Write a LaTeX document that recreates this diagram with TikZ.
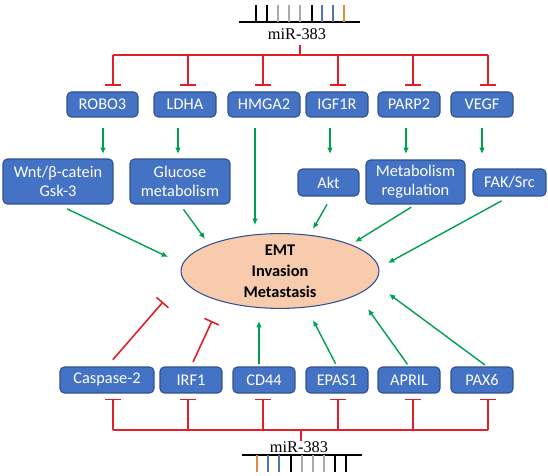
\documentclass[tikz,border=0pt]{standalone}
\usepackage{fontspec}
\setmainfont{Liberation Serif}
\setsansfont{Carlito}
\usetikzlibrary{shapes.geometric,arrows.meta}
\definecolor{boxblue}{RGB}{68,114,196}
\definecolor{boxedge}{RGB}{47,82,143}
\definecolor{emtfill}{RGB}{248,203,173}
\definecolor{inhred}{RGB}{226,30,38}
\definecolor{actgreen}{RGB}{0,160,80}
\definecolor{tickgray}{RGB}{170,170,170}
\definecolor{tickblue}{RGB}{80,115,185}
\definecolor{tickorange}{RGB}{225,140,60}
\tikzstyle{node_box} = [rectangle, rounded corners=2.5pt, draw=boxedge, line width=0.6pt, fill=boxblue, text=white, font=\sffamily\fontsize{9.3}{10.8}\selectfont, align=center, inner sep=0pt, minimum height=0.5cm]
\tikzstyle{node_emt} = [ellipse, draw=boxedge, line width=0.6pt, fill=emtfill, font=\sffamily\bfseries\fontsize{9.3}{12}\selectfont, align=center, inner sep=0pt, minimum width=3.96cm, minimum height=1.38cm]
\tikzstyle{node_mir} = [inner sep=0pt, font=\fontsize{9.3}{11}\selectfont]
\tikzstyle{edge_bus} = [inhred, line width=0.9pt]
\tikzstyle{edge_inh} = [inhred, line width=0.9pt, -{Bar[width=9pt]}]
\tikzstyle{edge_act} = [actgreen, line width=0.8pt, -{Latex[length=3.6pt,width=3.2pt]}]
\tikzstyle{edge_tick} = [line width=0.7pt]

\begin{document}
\begin{tikzpicture}[x=0.02cm, y=-0.02cm]
			\useasboundingbox (0,0) rectangle (548,476);
			\node (mirT) at (297,34) [node_mir] {miR-383};
			\node (mirB) at (299,447) [node_mir] {miR-383};
			\node (ROBO3) at (102.5,104.5) [node_box, minimum width=1.42cm] {ROBO3};
			\node (LDHA) at (185,104.5) [node_box, minimum width=1.24cm] {LDHA};
			\node (HMGA2) at (264,104.5) [node_box, minimum width=1.44cm] {HMGA2};
			\node (IGF1R) at (337,104.5) [node_box, minimum width=1.24cm] {IGF1R};
			\node (PARP2) at (409,104.5) [node_box, minimum width=1.24cm] {PARP2};
			\node (VEGF) at (482,104.5) [node_box, minimum width=1.24cm] {VEGF};
			\node (Wnt) at (58,181.5) [node_box, minimum width=2.2cm, minimum height=0.9cm] {Wnt/β-catein\\Gsk-3};
			\node (Glucose) at (180,181.5) [node_box, minimum width=2cm, minimum height=0.9cm] {Glucose\\metabolism};
			\node (Akt) at (328.5,182.5) [node_box, minimum width=1.22cm, minimum height=0.54cm] {Akt};
			\node (Metab) at (415.5,182) [node_box, minimum width=1.98cm, minimum height=0.88cm] {Metabolism\\regulation};
			\node (FAK) at (509.5,182.5) [node_box, minimum width=1.46cm, minimum height=0.54cm] {FAK/Src};
			\node (EMT) at (280,271) [node_emt] {EMT\\Invasion\\Metastasis};
			\node (Casp) at (107,380) [node_box, minimum width=1.88cm, minimum height=0.52cm] {Caspase-2};
			\node (IRF1) at (191,380) [node_box, minimum width=1.24cm, minimum height=0.52cm] {IRF1};
			\node (CD44) at (264,380) [node_box, minimum width=1.24cm, minimum height=0.52cm] {CD44};
			\node (EPAS1) at (337,380) [node_box, minimum width=1.24cm, minimum height=0.52cm] {EPAS1};
			\node (APRIL) at (409,380) [node_box, minimum width=1.24cm, minimum height=0.52cm] {APRIL};
			\node (PAX6) at (482,380) [node_box, minimum width=1.24cm, minimum height=0.52cm] {PAX6};
			\draw[edge_tick] (239,22) -- (360,22);
			\draw[edge_tick] (256,5) -- (256,22) (267,5) -- (267,22) (312,5) -- (312,22);
			\draw[edge_tick, tickgray] (278,5) -- (278,22) (289,5) -- (289,22) (300,5) -- (300,22);
			\draw[edge_tick, tickblue] (322,5) -- (322,22) (333,5) -- (333,22);
			\draw[edge_tick, tickorange] (344,5) -- (344,22);
			\draw[edge_tick] (242,455) -- (362,455);
			\draw[edge_tick] (291,455) -- (291,472) (335,455) -- (335,472) (346,455) -- (346,472);
			\draw[edge_tick, tickgray] (302,455) -- (302,472) (313,455) -- (313,472) (324,455) -- (324,472);
			\draw[edge_tick, tickblue] (268,455) -- (268,472) (279,455) -- (279,472);
			\draw[edge_tick, tickorange] (257,455) -- (257,472);
			\coordinate (busT) at (300,55);
			\coordinate (dROBO3) at (113,55);
			\coordinate (dLDHA) at (188,55);
			\coordinate (dHMGA2) at (263,55);
			\coordinate (dIGF1R) at (338,55);
			\coordinate (dPARP2) at (413,55);
			\coordinate (dVEGF) at (488,55);
			\draw[edge_bus, shorten <=0.11cm] (mirT.south -| busT) -- (busT);
			\draw[edge_bus] (dROBO3) -- (dVEGF);
			\draw[edge_inh, shorten >=0.11cm] (dROBO3) -- (dROBO3 |- ROBO3.north);
			\draw[edge_inh, shorten >=0.11cm] (dLDHA) -- (dLDHA |- LDHA.north);
			\draw[edge_inh, shorten >=0.11cm] (dHMGA2) -- (dHMGA2 |- HMGA2.north);
			\draw[edge_inh, shorten >=0.11cm] (dIGF1R) -- (dIGF1R |- IGF1R.north);
			\draw[edge_inh, shorten >=0.11cm] (dPARP2) -- (dPARP2 |- PARP2.north);
			\draw[edge_inh, shorten >=0.11cm] (dVEGF) -- (dVEGF |- VEGF.north);
			\coordinate (busB) at (301,430);
			\coordinate (uCasp) at (113,430);
			\coordinate (uIRF1) at (188,430);
			\coordinate (uCD44) at (263,430);
			\coordinate (uEPAS1) at (338,430);
			\coordinate (uAPRIL) at (413,430);
			\coordinate (uPAX6) at (488,430);
			\draw[edge_bus] (busB) -- (mirB.north -| busB);
			\draw[edge_bus] (uCasp) -- (uPAX6);
			\draw[edge_inh, shorten >=0.1cm] (uCasp) -- (uCasp |- Casp.south);
			\draw[edge_inh, shorten >=0.1cm] (uIRF1) -- (uIRF1 |- IRF1.south);
			\draw[edge_inh, shorten >=0.1cm] (uCD44) -- (uCD44 |- CD44.south);
			\draw[edge_inh, shorten >=0.1cm] (uEPAS1) -- (uEPAS1 |- EPAS1.south);
			\draw[edge_inh, shorten >=0.1cm] (uAPRIL) -- (uAPRIL |- APRIL.south);
			\draw[edge_inh, shorten >=0.1cm] (uPAX6) -- (uPAX6 |- PAX6.south);
			\coordinate (aROBO3) at (103,154);
			\coordinate (aLDHA) at (178,154);
			\coordinate (aHMGA2) at (255,225);
			\coordinate (aIGF1R) at (330,154);
			\coordinate (aPARP2) at (406,154);
			\coordinate (aVEGF) at (482,154);
			\draw[edge_act, shorten <=0.2cm] (ROBO3.south -| aROBO3) -- (aROBO3);
			\draw[edge_act, shorten <=0.2cm] (LDHA.south -| aLDHA) -- (aLDHA);
			\draw[edge_act, shorten <=0.2cm] (HMGA2.south -| aHMGA2) -- (aHMGA2);
			\draw[edge_act, shorten <=0.2cm] (IGF1R.south -| aIGF1R) -- (aIGF1R);
			\draw[edge_act, shorten <=0.2cm] (PARP2.south -| aPARP2) -- (aPARP2);
			\draw[edge_act, shorten <=0.2cm] (VEGF.south -| aVEGF) -- (aVEGF);
			\coordinate (eWnt) at (168,257);
			\coordinate (eGlu) at (205,239);
			\coordinate (eAkt) at (313,229);
			\coordinate (eMet) at (355,242);
			\coordinate (eFAK) at (388,263);
			\draw[edge_act, shorten <=0.2cm] (Wnt.south) -- (eWnt);
			\draw[edge_act, shorten <=0.12cm] (Glucose.south) -- (eGlu);
			\draw[edge_act, shorten <=0.18cm] ([xshift=0.06cm]Akt.south) -- (eAkt);
			\draw[edge_act, shorten <=0.1cm] (Metab.south) -- (eMet);
			\draw[edge_act, shorten <=0.18cm] (FAK.south) -- (eFAK);
			\coordinate (bCasp) at (163,302);
			\coordinate (bIRF1) at (212,321);
			\coordinate (bCD44) at (259,321);
			\coordinate (bEPAS1) at (313,320);
			\coordinate (bAPRIL) at (368,309);
			\coordinate (bPAX6) at (389,294);
			\draw[edge_inh, shorten <=0.18cm] (Casp.north) -- (bCasp);
			\draw[edge_inh, shorten <=0.1cm] (IRF1.north) -- (bIRF1);
			\draw[edge_act, shorten <=0.04cm] (CD44.north -| bCD44) -- (bCD44);
			\draw[edge_act, shorten <=0.06cm] (EPAS1.north) -- (bEPAS1);
			\draw[edge_act, shorten <=0.05cm] (APRIL.north) -- (bAPRIL);
			\draw[edge_act, shorten <=0.05cm] ([xshift=0.1cm]PAX6.north) -- (bPAX6);
		\end{tikzpicture}
\end{document}
